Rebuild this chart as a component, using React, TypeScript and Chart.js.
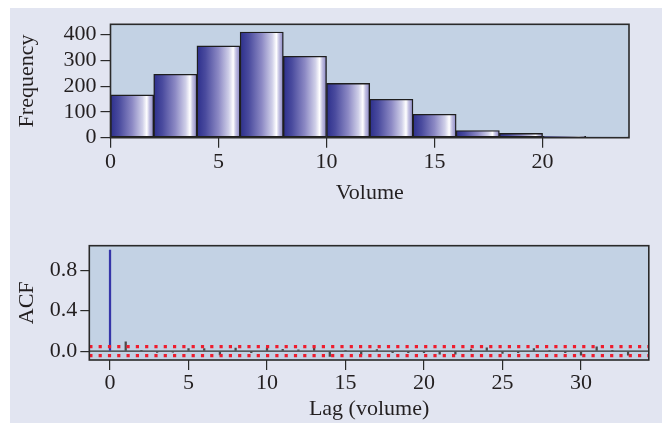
import React, { useEffect, useRef } from 'react';
import { Chart, registerables } from 'chart.js';

Chart.register(...registerables);

// ---- Data ----
const binCenters = [1, 3, 5, 7, 9, 11, 13, 15, 17, 19, 21, 23];
const frequencies = [166, 246, 356, 410, 316, 211, 149, 91, 28, 17, 5, 2];
const binWidth = 2;
const volumeTickStep = 5;
const frequencyTickStep = 100;

const lags = [
  0, 1, 2, 3, 4, 5, 6, 7, 8, 9, 10, 11, 12, 13, 14, 15, 16,
  17, 18, 19, 20, 21, 22, 23, 24, 25, 26, 27, 28, 29, 30, 31, 32, 33,
];
const acfValues = [
  1, 0.092, 0.005, -0.014, -0.01, 0.026, 0.024, -0.038, 0.03, -0.015, 0.033,
  0.018, 0.012, 0.033, -0.053, 0.004, -0.033, 0.016, -0.016, -0.016, -0.016,
  -0.03, -0.03, 0.02, 0.033, -0.023, -0.016, 0.026, 0.003, -0.016, -0.04,
  0.043, 0.003, -0.04,
];
const ciBound = 0.0439;
const lagRange = [-1.32, 34.32];
const acfRange = [-0.088, 1.043];
const lagTickStep = 5;
const acfTickStep = 0.4;

// ---- Styles ----
const FONT = "'Liberation Serif', 'Times New Roman', serif";
const TEXT = '#231f20';
const PLOT_BG = '#C3D2E4';
const PAGE_BG = '#E2E5F1';
const AXIS = '#2a2a2a';

const plotFrame = {
  id: 'plotFrame',
  beforeDraw(chart: any) {
    const { ctx, chartArea: a } = chart;
    if (!a) return;
    ctx.save();
    ctx.fillStyle = PLOT_BG;
    ctx.fillRect(a.left, a.top, a.right - a.left, a.bottom - a.top);
    ctx.restore();
  },
  afterDatasetsDraw(chart: any) {
    const { ctx, chartArea: a } = chart;
    ctx.save();
    ctx.strokeStyle = AXIS;
    ctx.lineWidth = 1.6;
    ctx.strokeRect(a.left, a.top, a.right - a.left, a.bottom - a.top);
    ctx.restore();
  },
};

function barGradient(c: any) {
  const chart = c.chart;
  const xs = chart.scales && chart.scales.x;
  if (!xs || !c.raw) return '#6a68b0';
  const l = xs.getPixelForValue(c.raw.x - binWidth / 2);
  const r = xs.getPixelForValue(c.raw.x + binWidth / 2);
  if (!isFinite(l) || !isFinite(r)) return '#6a68b0';
  const g = chart.ctx.createLinearGradient(l, 0, r, 0);
  g.addColorStop(0, '#2c2f8c');
  g.addColorStop(0.2, '#4a4b9e');
  g.addColorStop(0.5, '#8c89c4');
  g.addColorStop(0.74, '#cfcfe8');
  g.addColorStop(0.84, '#ffffff');
  g.addColorStop(0.9, '#c4c2e2');
  g.addColorStop(1, '#8784c4');
  return g;
}

const tickFont = { family: FONT, size: 22 };
const titleFont = { family: FONT, size: 22 };

function HistChart() {
  const ref = useRef<HTMLCanvasElement>(null);
  useEffect(() => {
    const chart = new Chart(ref.current as HTMLCanvasElement, {
      type: 'bar',
      data: {
        datasets: [
          {
            label: 'Frequency',
            data: binCenters.map((x, i) => ({ x, y: frequencies[i] })),
            backgroundColor: barGradient as any,
            borderColor: '#1e1e1e',
            borderWidth: 1.4,
            borderSkipped: false,
            barPercentage: 1,
            categoryPercentage: 1,
          },
        ],
      },
      options: {
        animation: false,
        responsive: false,
        devicePixelRatio: 1,
        layout: { padding: { left: 0, top: 24.3, right: 33, bottom: 7.3 } },
        plugins: { legend: { display: false }, tooltip: { enabled: false } },
        scales: {
          x: {
            type: 'linear',
            min: 0,
            max: 24,
            offset: false,
            afterFit: (s: any) => { s.height = 70; },
            grid: { drawOnChartArea: false, drawTicks: true, tickLength: 10, color: AXIS, lineWidth: 1.2, offset: false },
            border: { display: false },
            ticks: { stepSize: volumeTickStep, includeBounds: false, autoSkip: false, maxRotation: 0, color: TEXT, font: tickFont, padding: 1 },
            title: { display: true, text: 'Volume', color: TEXT, font: titleFont, padding: { top: 0, bottom: 1.5 } },
          },
          y: {
            type: 'linear',
            min: 0,
            max: 440,
            afterFit: (s: any) => { s.width = 110.5; },
            grid: { drawOnChartArea: false, drawTicks: true, tickLength: 10, color: AXIS, lineWidth: 1.2 },
            border: { display: false },
            ticks: { stepSize: frequencyTickStep, includeBounds: false, autoSkip: false, color: TEXT, font: tickFont, padding: 4 },
            title: { display: true, text: 'Frequency', color: TEXT, font: titleFont, padding: { top: 13.8, bottom: 0 } },
          },
        },
      },
      plugins: [plotFrame],
    } as any);
    return () => chart.destroy();
  }, []);
  return <canvas ref={ref} width={662} height={215} style={{ position: 'absolute', left: 0, top: 0, width: 662, height: 215 }} />;
}

function AcfChart() {
  const ref = useRef<HTMLCanvasElement>(null);
  useEffect(() => {
    const chart = new Chart(ref.current as HTMLCanvasElement, {
      type: 'bar',
      data: {
        datasets: [
          {
            type: 'line',
            label: 'zero',
            data: [{ x: lagRange[0], y: 0 }, { x: lagRange[1], y: 0 }],
            borderColor: '#333333',
            borderWidth: 1.2,
            pointRadius: 0,
            order: 3,
          },
          {
            type: 'bar',
            label: 'ACF',
            data: lags.map((x, i) => ({ x, y: acfValues[i] })),
            backgroundColor: lags.map((l) => (l === 0 ? '#3535a8' : '#4a4a4a')),
            borderWidth: 0,
            barThickness: 1.6,
            order: 2,
          },
          {
            type: 'line',
            label: 'upper',
            data: [{ x: lagRange[0], y: ciBound }, { x: lagRange[1], y: ciBound }],
            borderColor: '#ee1c2e',
            borderWidth: 3.2,
            borderDash: [3.2, 6.1],
            pointRadius: 0,
            order: 1,
          },
          {
            type: 'line',
            label: 'lower',
            data: [{ x: lagRange[0], y: -ciBound }, { x: lagRange[1], y: -ciBound }],
            borderColor: '#ee1c2e',
            borderWidth: 3.2,
            borderDash: [3.2, 6.1],
            pointRadius: 0,
            order: 1,
          },
        ],
      },
      options: {
        animation: false,
        responsive: false,
        devicePixelRatio: 1,
        layout: { padding: { left: 0, top: 30.7, right: 13.2, bottom: 1 } },
        plugins: { legend: { display: false }, tooltip: { enabled: false } },
        scales: {
          x: {
            type: 'linear',
            min: lagRange[0],
            max: lagRange[1],
            offset: false,
            afterFit: (s: any) => { s.height = 62; },
            grid: { drawOnChartArea: false, drawTicks: true, tickLength: 10, color: AXIS, lineWidth: 1.2, offset: false },
            border: { display: false },
            ticks: { stepSize: lagTickStep, includeBounds: false, autoSkip: false, maxRotation: 0, color: TEXT, font: tickFont, padding: 0 },
            title: { display: true, text: 'Lag (volume)', color: TEXT, font: titleFont, padding: { top: 0, bottom: 0 } },
          },
          y: {
            type: 'linear',
            min: acfRange[0],
            max: acfRange[1],
            afterFit: (s: any) => { s.width = 89.3; },
            grid: { drawOnChartArea: false, drawTicks: true, tickLength: 9, color: AXIS, lineWidth: 1.2 },
            border: { display: false },
            ticks: { stepSize: acfTickStep, includeBounds: false, autoSkip: false, color: TEXT, font: tickFont, padding: 3, callback: (v: any) => Number(v).toFixed(1) },
            title: { display: true, text: 'ACF', color: TEXT, font: titleFont, padding: { top: 13.8, bottom: 0 } },
          },
        },
      },
      plugins: [plotFrame],
    } as any);
    return () => chart.destroy();
  }, []);
  return <canvas ref={ref} width={662} height={208} style={{ position: 'absolute', left: 0, top: 215, width: 662, height: 208 }} />;
}

export default function App() {
  return (
    <div style={{ position: 'fixed', left: 0, top: 0, width: 662, height: 423, background: '#ffffff', overflow: 'hidden' }}>
      <div style={{ position: 'absolute', left: 10, top: 8, right: 0, bottom: 0, background: PAGE_BG }} />
      <HistChart />
      <AcfChart />
    </div>
  );
}
